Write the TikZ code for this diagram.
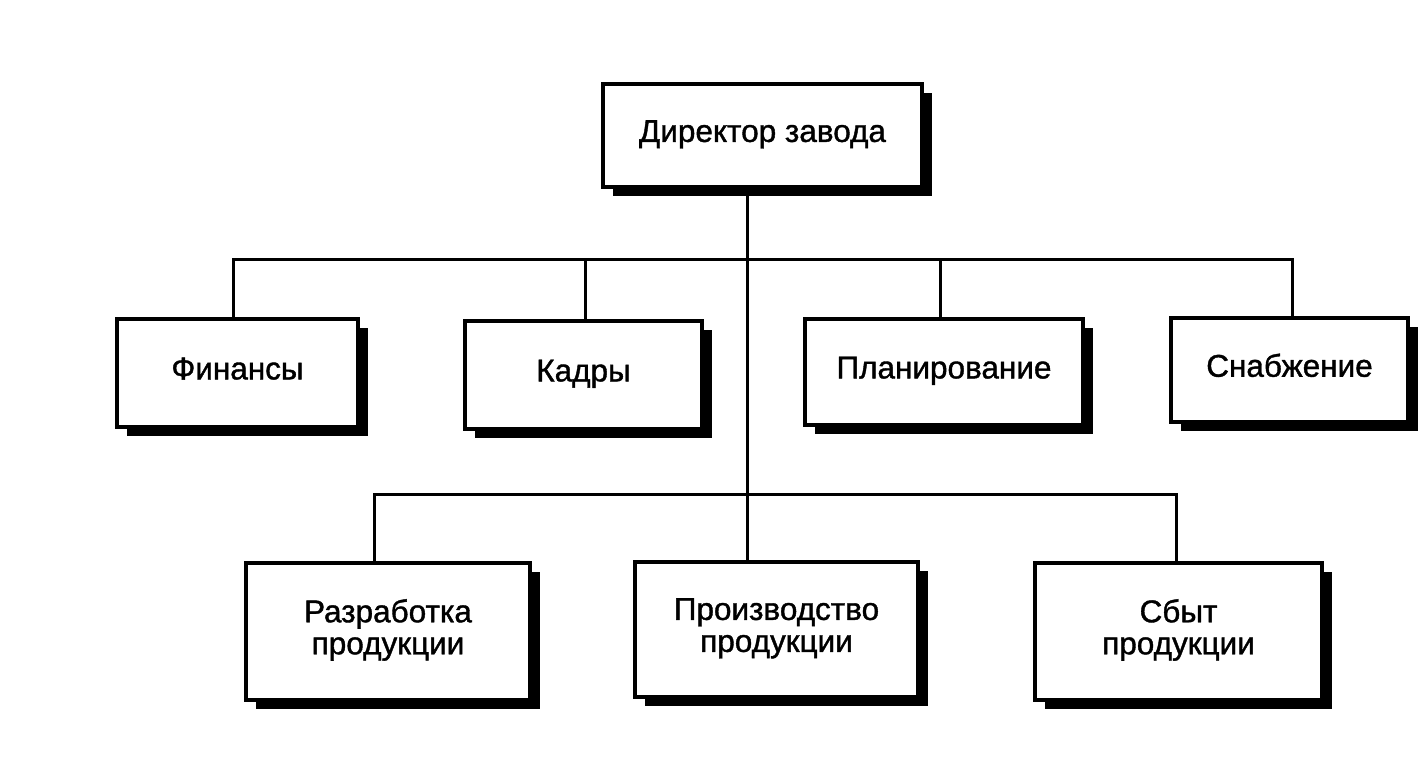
\documentclass[tikz,border=0pt]{standalone}
\usepackage{fontspec}
\setmainfont{Liberation Sans}
\newfontfamily\boxfont[FakeBold=1.2]{Liberation Sans}
\usetikzlibrary{shadows}
\newcommand\boxtext[2]{\raisebox{#1}{\begin{tabular}{@{}c@{}}#2\end{tabular}}}
\begin{document}
\begin{tikzpicture}[x=1pt,y=-1pt,
  orgbox/.style={draw=black, line width=3.4pt, fill=white, align=center,
    inner sep=0pt, font=\boxfont\fontsize{31.5}{32}\selectfont,
    drop shadow={shadow xshift=10pt, shadow yshift=-9pt, fill=black, opacity=1}},
  link/.style={line width=3pt}]
\useasboundingbox (0,0) rectangle (1419,781);
\fill[white] (0,0) rectangle (1419,781);
\node[orgbox, minimum width=319pt, minimum height=103pt] (dir) at (762.5,135.5) {\boxtext{5pt}{Директор завода}};
\node[orgbox, minimum width=241pt, minimum height=108pt] (fin) at (237.5,373) {\boxtext{8pt}{Финансы}};
\node[orgbox, minimum width=237pt, minimum height=108pt] (kad) at (583.5,375) {\boxtext{8pt}{Кадры}};
\node[orgbox, minimum width=278pt, minimum height=106pt] (plan) at (944,372) {\boxtext{9pt}{Планирование}};
\node[orgbox, minimum width=237pt, minimum height=104pt] (snab) at (1289.5,370) {\boxtext{7pt}{Снабжение}};
\node[orgbox, minimum width=284pt, minimum height=137pt] (razr) at (388,631.5) {\boxtext{5pt}{Разработка\\продукции}};
\node[orgbox, minimum width=283pt, minimum height=135pt] (proiz) at (776.5,629.5) {\boxtext{5pt}{Производство\\продукции}};
\node[orgbox, minimum width=287pt, minimum height=137pt] (sbyt) at (1178.5,631.5) {\boxtext{5pt}{Сбыт\\продукции}};
% bus coordinates
\coordinate (t1) at (747,187);
\coordinate (t2) at (747,562);
\coordinate (b1l) at (233,259);
\coordinate (b1r) at (1292,259);
\coordinate (b2l) at (374,494);
\coordinate (b2r) at (1176,494);
\coordinate (k1) at (585,259);
\coordinate (p1) at (940,259);
\draw[link] (t1) -- (t2);
\draw[link] (fin.north -| b1l) -- (b1l) -- (b1r) -- (snab.north -| b1r);
\draw[link] (kad.north -| k1) -- (k1);
\draw[link] (plan.north -| p1) -- (p1);
\draw[link] (razr.north -| b2l) -- (b2l) -- (b2r) -- (sbyt.north -| b2r);
\end{tikzpicture}
\end{document}
